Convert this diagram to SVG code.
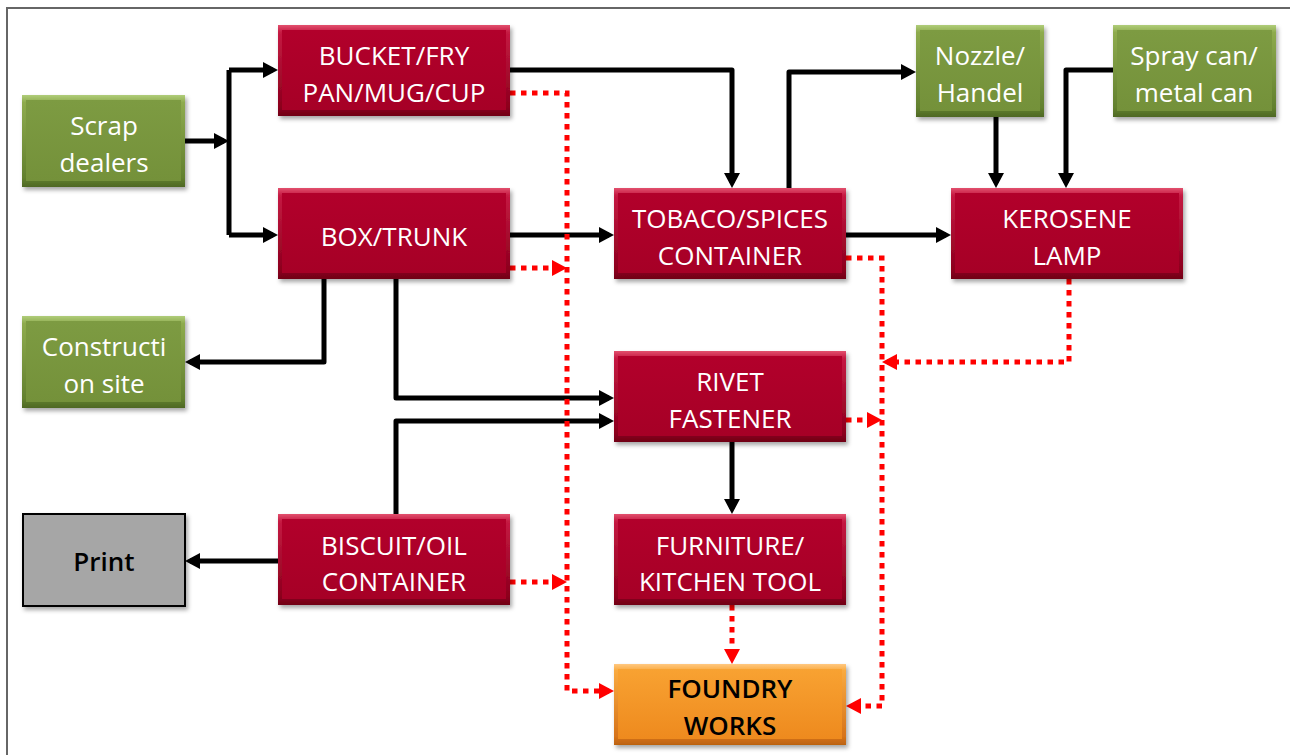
<svg xmlns="http://www.w3.org/2000/svg" width="1290" height="755" viewBox="0 0 1290 755">
  <defs>
    <style>
      text { font-family: "Open Sans", "Liberation Sans", sans-serif; font-size: 26px; text-anchor: middle; }
      .red text, .green text { fill: #ffffff; }
      .orange text, .gray text { fill: #000000; font-weight: 600; }
      .red .edge { fill: url(#edgeRed); }
      .red .face { fill: url(#faceRed); }
      .green .edge { fill: url(#edgeGreen); }
      .green .face { fill: url(#faceGreen); }
      .orange .edge { fill: url(#edgeOrange); }
      .orange .face { fill: url(#faceOrange); }
      .gray .edge { fill: #a6a6a6; stroke: #000000; stroke-width: 2; }
      .edge { filter: url(#shadow); }
      .solid { fill: none; stroke: #000000; stroke-width: 5; stroke-linejoin: round; marker-end: url(#arrowBlack); }
      .solid.plain { marker-end: none; }
      .dotted { fill: none; stroke: #ff0000; stroke-width: 5; stroke-dasharray: 5.5 5.5; marker-end: url(#arrowRed); }
      .frame { fill: none; stroke: #666666; stroke-width: 2; }
    </style>
    <filter id="shadow" x="-10%" y="-10%" width="125%" height="130%">
      <feDropShadow dx="2" dy="3" stdDeviation="2" flood-color="#000000" flood-opacity="0.35"/>
    </filter>
    <linearGradient id="edgeRed" x1="0" y1="0" x2="0" y2="1">
      <stop offset="0" stop-color="#e2506e"/>
      <stop offset="0.08" stop-color="#c51a42"/>
      <stop offset="0.9" stop-color="#8c001d"/>
      <stop offset="1" stop-color="#700017"/>
    </linearGradient>
    <linearGradient id="faceRed" x1="0" y1="0" x2="0" y2="1">
      <stop offset="0" stop-color="#b2002b"/>
      <stop offset="1" stop-color="#a60026"/>
    </linearGradient>
    <linearGradient id="edgeGreen" x1="0" y1="0" x2="0" y2="1">
      <stop offset="0" stop-color="#b0cd7a"/>
      <stop offset="0.08" stop-color="#8eab4e"/>
      <stop offset="0.9" stop-color="#62802e"/>
      <stop offset="1" stop-color="#4e6824"/>
    </linearGradient>
    <linearGradient id="faceGreen" x1="0" y1="0" x2="0" y2="1">
      <stop offset="0" stop-color="#7d9b42"/>
      <stop offset="1" stop-color="#74913a"/>
    </linearGradient>
    <linearGradient id="edgeOrange" x1="0" y1="0" x2="0" y2="1">
      <stop offset="0" stop-color="#ffc880"/>
      <stop offset="0.08" stop-color="#f9aa40"/>
      <stop offset="0.9" stop-color="#d6731a"/>
      <stop offset="1" stop-color="#bb6210"/>
    </linearGradient>
    <linearGradient id="faceOrange" x1="0" y1="0" x2="0" y2="1">
      <stop offset="0" stop-color="#f8a232"/>
      <stop offset="1" stop-color="#ee8a1e"/>
    </linearGradient>
    <marker id="arrowBlack" markerUnits="userSpaceOnUse" markerWidth="15" markerHeight="16" refX="10" refY="8" orient="auto">
      <path d="M0,0 L15,8 L0,16 z" fill="#000000"/>
    </marker>
    <marker id="arrowRed" markerUnits="userSpaceOnUse" markerWidth="15" markerHeight="16" refX="10" refY="8" orient="auto">
      <path d="M0,0 L15,8 L0,16 z" fill="#ff0000"/>
    </marker>
  </defs>

  <rect width="1290" height="755" fill="#ffffff"/>
  <path class="frame" d="M7,755 V8 H1290"/>

  <!-- solid flows, then the dotted routes drawn over them -->
  <g id="connectors">
    <path class="solid" d="M185,141 H224"/>
    <path class="solid plain" d="M229,70 V235"/>
    <path class="solid" d="M229,70 H273"/>
    <path class="solid" d="M229,235 H273"/>
    <path class="solid" d="M510,70 H732 V183"/>
    <path class="solid" d="M510,235 H609"/>
    <path class="solid" d="M789,188 V72 H911"/>
    <path class="solid" d="M996,117 V183"/>
    <path class="solid" d="M1113,70 H1066 V183"/>
    <path class="solid" d="M846,235 H946"/>
    <path class="solid" d="M324,279 V362 H190"/>
    <path class="solid" d="M396,279 V398 H609"/>
    <path class="solid" d="M396,514 V421 H609"/>
    <path class="solid" d="M732,442 V509"/>
    <path class="solid" d="M278,561 H190"/>

    <path class="dotted" d="M510,93 H567 V691 H609"/>
    <path class="dotted" d="M510,268 H562"/>
    <path class="dotted" d="M510,582 H562"/>
    <path class="dotted" d="M846,258 H882 V706 H851"/>
    <path class="dotted" d="M1069,279 V362 H887"/>
    <path class="dotted" d="M846,420 H877"/>
    <path class="dotted" d="M732,605 V659"/>
  </g>

  <g id="scrap-dealers" class="green">
    <rect class="edge" x="22" y="95" width="163" height="92"/>
    <rect class="face" x="26" y="100" width="155" height="81"/>
    <text x="104" y="135">Scrap</text>
    <text x="104" y="172">dealers</text>
  </g>

  <g id="bucket" class="red">
    <rect class="edge" x="278" y="25" width="232" height="91"/>
    <rect class="face" x="282" y="30" width="224" height="80"/>
    <text x="394" y="65">BUCKET/FRY</text>
    <text x="394" y="102">PAN/MUG/CUP</text>
  </g>

  <g id="box-trunk" class="red">
    <rect class="edge" x="278" y="188" width="232" height="91"/>
    <rect class="face" x="282" y="193" width="224" height="80"/>
    <text x="394" y="246">BOX/TRUNK</text>
  </g>

  <g id="tobaco-container" class="red">
    <rect class="edge" x="614" y="188" width="232" height="91"/>
    <rect class="face" x="618" y="193" width="224" height="80"/>
    <text x="730" y="228">TOBACO/SPICES</text>
    <text x="730" y="265">CONTAINER</text>
  </g>

  <g id="kerosene-lamp" class="red">
    <rect class="edge" x="951" y="188" width="232" height="91"/>
    <rect class="face" x="955" y="193" width="224" height="80"/>
    <text x="1067" y="228">KEROSENE</text>
    <text x="1067" y="265">LAMP</text>
  </g>

  <g id="nozzle" class="green">
    <rect class="edge" x="916" y="25" width="128" height="92"/>
    <rect class="face" x="920" y="30" width="120" height="81"/>
    <text x="980" y="65">Nozzle/</text>
    <text x="980" y="102">Handel</text>
  </g>

  <g id="spray-can" class="green">
    <rect class="edge" x="1113" y="25" width="163" height="92"/>
    <rect class="face" x="1117" y="30" width="155" height="81"/>
    <text x="1194" y="65">Spray can/</text>
    <text x="1194" y="102">metal can</text>
  </g>

  <g id="construction-site" class="green">
    <rect class="edge" x="22" y="316" width="163" height="92"/>
    <rect class="face" x="26" y="321" width="155" height="81"/>
    <text x="104" y="356">Constructi</text>
    <text x="104" y="393">on site</text>
  </g>

  <g id="rivet" class="red">
    <rect class="edge" x="614" y="351" width="232" height="91"/>
    <rect class="face" x="618" y="356" width="224" height="80"/>
    <text x="730" y="391">RIVET</text>
    <text x="730" y="428">FASTENER</text>
  </g>

  <g id="print" class="gray">
    <rect class="edge" x="23" y="514" width="162" height="92"/>
    <text x="104" y="571">Print</text>
  </g>

  <g id="biscuit-container" class="red">
    <rect class="edge" x="278" y="514" width="232" height="91"/>
    <rect class="face" x="282" y="519" width="224" height="80"/>
    <text x="394" y="555">BISCUIT/OIL</text>
    <text x="394" y="591">CONTAINER</text>
  </g>

  <g id="furniture" class="red">
    <rect class="edge" x="614" y="514" width="232" height="91"/>
    <rect class="face" x="618" y="519" width="224" height="80"/>
    <text x="730" y="555">FURNITURE/</text>
    <text x="730" y="591">KITCHEN TOOL</text>
  </g>

  <g id="foundry" class="orange">
    <rect class="edge" x="614" y="664" width="232" height="81"/>
    <rect class="face" x="618" y="669" width="224" height="70"/>
    <text x="730" y="698">FOUNDRY</text>
    <text x="730" y="735">WORKS</text>
  </g>
</svg>
